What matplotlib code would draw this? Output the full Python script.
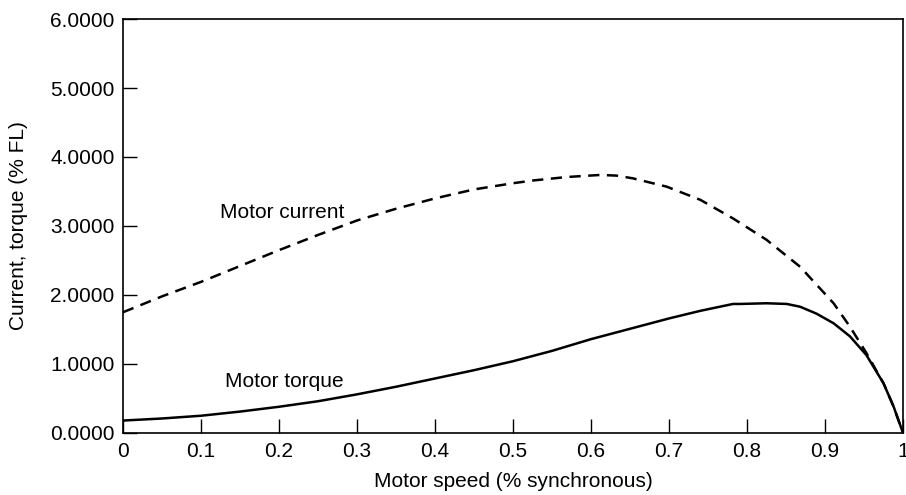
import matplotlib
matplotlib.use("Agg")
import matplotlib.pyplot as plt
from matplotlib.ticker import FormatStrFormatter

plt.rcParams['font.family'] = ['Liberation Sans', 'DejaVu Sans']

speed_current = [0.0, 0.05, 0.1, 0.15, 0.2, 0.25, 0.3, 0.35, 0.4, 0.45, 0.5, 0.526,
                 0.569, 0.612, 0.633, 0.654, 0.697, 0.74, 0.782, 0.825, 0.868,
                 0.911, 0.932, 0.953, 0.975, 0.988, 1.0]
current = [1.75, 1.98, 2.19, 2.42, 2.65, 2.87, 3.08, 3.25, 3.40, 3.53, 3.62, 3.66,
           3.71, 3.74, 3.73, 3.69, 3.57, 3.38, 3.11, 2.80, 2.41,
           1.88, 1.54, 1.16, 0.72, 0.38, 0.0]

speed_torque = [0.0, 0.05, 0.1, 0.15, 0.2, 0.25, 0.3, 0.35, 0.4, 0.45, 0.5, 0.55,
                0.6, 0.65, 0.7, 0.74, 0.761, 0.782, 0.791, 0.825, 0.851, 0.868,
                0.889, 0.911, 0.932, 0.953, 0.975, 0.988, 1.0]
torque = [0.18, 0.21, 0.25, 0.31, 0.38, 0.46, 0.56, 0.67, 0.79, 0.91, 1.04, 1.19,
          1.36, 1.51, 1.66, 1.77, 1.82, 1.87, 1.87, 1.88, 1.87, 1.83,
          1.73, 1.59, 1.40, 1.13, 0.72, 0.38, 0.0]

x_ticks = [0, 0.1, 0.2, 0.3, 0.4, 0.5, 0.6, 0.7, 0.8, 0.9, 1.0]
x_tick_labels = ['0', '0.1', '0.2', '0.3', '0.4', '0.5', '0.6', '0.7', '0.8', '0.9', '1']
y_ticks = [0, 1, 2, 3, 4, 5, 6]

fig = plt.figure(figsize=(9.06, 4.95), dpi=100)
ax = fig.add_axes([0.1358, 0.1253, 0.8609, 0.8363])

ax.plot(speed_current, current, color='black', linewidth=1.8, linestyle=(0, (4.5, 3)))
ax.plot(speed_torque, torque, color='black', linewidth=1.8)

ax.set_xlim(0, 1)
ax.set_ylim(0, 6)
ax.set_xticks(x_ticks)
ax.set_xticklabels(x_tick_labels)
ax.set_yticks(y_ticks)
ax.yaxis.set_major_formatter(FormatStrFormatter('%.4f'))
ax.tick_params(direction='in', length=10, width=1, labelsize=15, colors='black')
ax.tick_params(axis='x', pad=6.5)
ax.tick_params(axis='y', pad=6)
for s in ax.spines.values():
    s.set_linewidth(1.2)

ax.set_xlabel('Motor speed (% synchronous)', fontsize=15, labelpad=8)
ax.set_ylabel('Current, torque (% FL)', fontsize=15, labelpad=16)

ax.text(0.124, 3.19, 'Motor current', fontsize=15, va='center', ha='left')
ax.text(0.131, 0.74, 'Motor torque', fontsize=15, va='center', ha='left')

fig.savefig('out.png', dpi=100)
